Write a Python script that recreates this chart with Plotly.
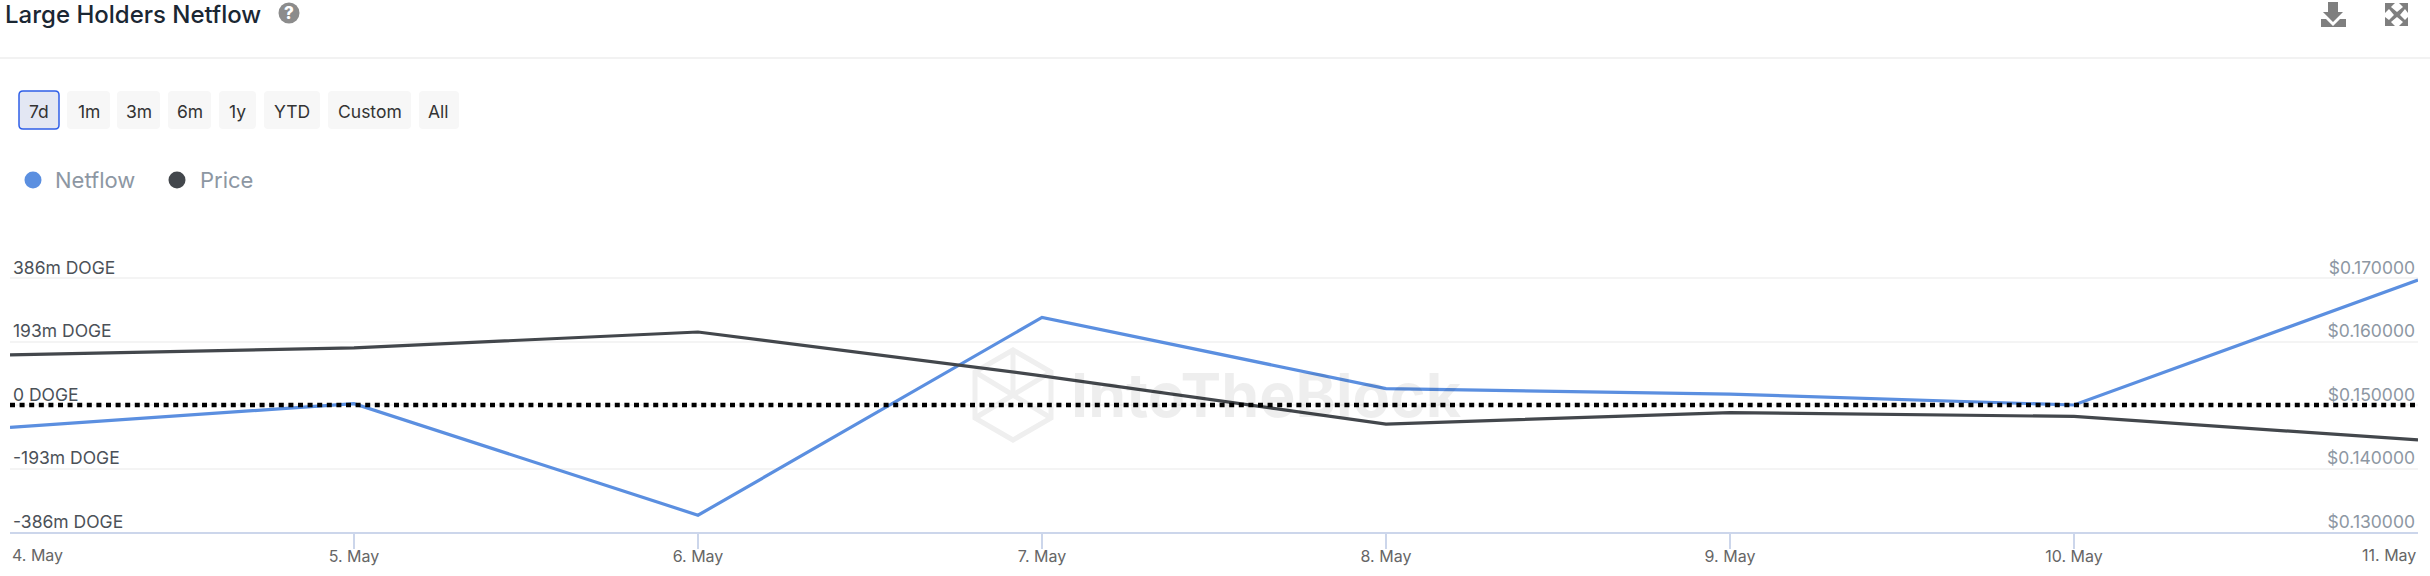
import plotly.graph_objects as go

# --- data ---
dates = ["2024-05-04", "2024-05-05", "2024-05-06", "2024-05-07",
         "2024-05-08", "2024-05-09", "2024-05-10", "2024-05-11"]
date_labels = ["4. May", "5. May", "6. May", "7. May", "8. May", "9. May", "10. May", "11. May"]
netflow = [-68, 4, -335, 266, 50, 33, 0, 380]          # millions of DOGE
price = [0.1579, 0.1590, 0.1615, 0.1546, 0.1470, 0.1488, 0.1482, 0.1445]
netflow_ticks = [-386, -193, 0, 193, 386]
netflow_tick_labels = ["-386m DOGE", "-193m DOGE", "0 DOGE", "193m DOGE", "386m DOGE"]
price_ticks = [0.13, 0.14, 0.15, 0.16, 0.17]
price_tick_labels = ["$0.130000", "$0.140000", "$0.150000", "$0.160000", "$0.170000"]
range_buttons = ["7d", "1m", "3m", "6m", "1y", "YTD", "Custom", "All"]
button_edges = [(19, 59), (67, 110), (117, 160), (168, 211), (219, 256), (264, 320), (328, 411), (419, 459)]
legend_items = [("Netflow", "#5b8fe0", 33, 55), ("Price", "#43474c", 177, 200)]

# --- layout geometry (pixels on the page) ---
W, H = 2430, 576
L, R, T, B = 10, 2418, 278, 532
HEADROOM = 34   # blank space kept above the top gridline so its labels are not dropped
FONT = "Inter"
AXIS_TOP = T - HEADROOM
PLOT_H = B - AXIS_TOP


def px(x):
    return (x - L) / (R - L)


def py(y):
    return (B - y) / PLOT_H


def poly(points, close=True):
    d = "M" + " L".join(f"{px(x):.6f},{py(y):.6f}" for x, y in points)
    return d + (" Z" if close else "")


def rrect(x0, y0, x1, y1, r=4):
    a, b, c, d = px(x0), py(y0), px(x1), py(y1)
    rx, ry = r / (R - L), r / PLOT_H
    return (f"M{a + rx:.6f},{b:.6f} L{c - rx:.6f},{b:.6f} Q{c:.6f},{b:.6f} {c:.6f},{b - ry:.6f} "
            f"L{c:.6f},{d + ry:.6f} Q{c:.6f},{d:.6f} {c - rx:.6f},{d:.6f} "
            f"L{a + rx:.6f},{d:.6f} Q{a:.6f},{d:.6f} {a:.6f},{d + ry:.6f} "
            f"L{a:.6f},{b - ry:.6f} Q{a:.6f},{b:.6f} {a + rx:.6f},{b:.6f} Z")


shapes, annotations = [], []


def pshape(path, fill=None, line=None, width=0, layer="above"):
    shapes.append(dict(type="path", xref="paper", yref="paper", path=path, layer=layer,
                       fillcolor=fill if fill else "rgba(0,0,0,0)",
                       line=dict(color=line if line else "rgba(0,0,0,0)", width=width)))


def circle(cx, cy, r, fill):
    shapes.append(dict(type="circle", xref="paper", yref="paper", x0=px(cx - r), x1=px(cx + r),
                       y0=py(cy + r), y1=py(cy - r), fillcolor=fill, line=dict(width=0)))


def text(x, y, s, size, color, xanchor="left", weight=None):
    annotations.append(dict(xref="paper", yref="paper", x=px(x), y=py(y), text=s, showarrow=False,
                            xanchor=xanchor, yanchor="middle", borderpad=0, borderwidth=0,
                            font=dict(family=FONT, size=size, color=color, weight=weight)))


# header
text(5, 14, "Large Holders Netflow", 24, "#1b2733", weight=500)
circle(289, 13, 10.5, "#8c8c8c")
text(289, 13, "?", 17, "#ffffff", "center", weight=800)
pshape(poly([(0, 58), (W, 58)], close=False), line="#eeeeee", width=1.5)

# download icon
pshape(poly([(2328, 2), (2338, 2), (2338, 12), (2343, 12), (2333, 22), (2323, 12), (2328, 12)]), fill="#7f7f7f")
pshape(poly([(2321, 19), (2326, 19), (2333, 26), (2340, 19), (2346, 19), (2346, 27), (2321, 27)]), fill="#7f7f7f")
# expand icon
pshape(poly([(2385, 3), (2395, 3), (2391, 7), (2397, 12), (2403, 7), (2399, 3), (2408, 3), (2408, 13),
             (2405, 9), (2400, 15), (2405, 20), (2408, 17), (2408, 26), (2399, 26), (2403, 22), (2397, 17),
             (2391, 22), (2395, 26), (2385, 26), (2385, 17), (2389, 20), (2394, 15), (2389, 9), (2385, 13)]),
       fill="#7f7f7f")

# range buttons
for i, (name, (x0, x1)) in enumerate(zip(range_buttons, button_edges)):
    if i == 0:
        pshape(rrect(x0, 91, x1, 129), fill="#e3e7f3", line="#2f5fe8", width=1.5)
    else:
        pshape(rrect(x0, 91, x1, 129), fill="#f7f7f7")
    text((x0 + x1) / 2, 111, name, 17.5, "#333333", "center")

# legend
for name, color, cx, tx in legend_items:
    circle(cx, 180, 8.5, color)
    text(tx, 180, name, 22, "#8d97a3")

# watermark behind the lines
WM = "#efefef"
hexagon = [(1013, 350), (1051, 372), (1051, 418), (1013, 440), (975, 418), (975, 372)]
pshape(poly(hexagon), line=WM, width=5, layer="below")
pshape(poly([(975, 372), (1013, 395), (1051, 372)], close=False), line=WM, width=5, layer="below")
pshape(poly([(975, 418), (1013, 395), (1051, 418)], close=False), line=WM, width=5, layer="below")
pshape(poly([(1013, 350), (1013, 395)], close=False), line=WM, width=5, layer="below")
text(1071, 395, "IntoTheBlock", 61, "rgba(0,0,0,0.065)", weight=700)

# end labels of the time axis sit inside the plot's edges
annotations.append(dict(xref="x", yref="paper", x=dates[0], y=py(555), text=date_labels[0], showarrow=False,
                        xanchor="left", yanchor="middle", font=dict(family=FONT, size=16, color="#666666")))
annotations.append(dict(xref="x", yref="paper", x=dates[-1], y=py(555), text=date_labels[-1], showarrow=False,
                        xanchor="right", yanchor="middle", font=dict(family=FONT, size=16, color="#666666")))

# zero reference line
shapes.append(dict(type="line", xref="paper", x0=0, x1=1, yref="y", y0=0, y1=0, layer="above",
                   line=dict(color="#000000", width=4.5, dash="5px,4.6px")))

fig = go.Figure()
fig.add_trace(go.Scatter(x=dates, y=netflow, mode="lines", name="Netflow", yaxis="y",
                         line=dict(color="#5b8fe0", width=3.2)))
fig.add_trace(go.Scatter(x=dates, y=price, mode="lines", name="Price", yaxis="y2",
                         line=dict(color="#43474c", width=3.2)))

room = HEADROOM / (B - T)
y_lo, y_hi = netflow_ticks[0], netflow_ticks[-1]
p_lo, p_hi = price_ticks[0], price_ticks[-1]

fig.update_layout(
    width=W, height=H, autosize=False, showlegend=False,
    paper_bgcolor="#ffffff", plot_bgcolor="rgba(0,0,0,0)",
    margin=dict(l=L, r=W - R, t=AXIS_TOP, b=H - B, pad=0, autoexpand=False),
    font=dict(family=FONT),
    shapes=shapes, annotations=annotations,
    xaxis=dict(type="date", range=[dates[0], dates[-1]], tickvals=dates, automargin=False,
               ticktext=[""] + date_labels[1:-1] + [""], ticklabelstandoff=-6,
               showgrid=False, zeroline=False, showline=True, linecolor="#ccd6eb", linewidth=2,
               ticks="outside", ticklen=15, tickwidth=1.5, tickcolor="#ccd6eb",
               tickfont=dict(family=FONT, size=16, color="#666666")),
    yaxis=dict(range=[y_lo, y_hi + (y_hi - y_lo) * room], tickvals=netflow_ticks, ticktext=netflow_tick_labels,
               ticklabelposition="inside top", ticklabelshift=2, showgrid=True, gridcolor="#f4f4f4", gridwidth=2,
               zeroline=False, showline=False, ticks="", automargin=False,
               tickfont=dict(family=FONT, size=17.5, color="#4b5158")),
    yaxis2=dict(range=[p_lo, p_hi + (p_hi - p_lo) * room], tickvals=price_ticks, ticktext=price_tick_labels,
                overlaying="y", side="right", ticklabelposition="inside top", ticklabelshift=2, automargin=False,
                showgrid=False, zeroline=False, showline=False, ticks="",
                tickfont=dict(family=FONT, size=17.5, color="#8d97a3")),
)

fig.write_html("out.html", config=dict(displayModeBar=False),
               post_script="document.body.style.margin='0';document.body.style.overflow='hidden';")
